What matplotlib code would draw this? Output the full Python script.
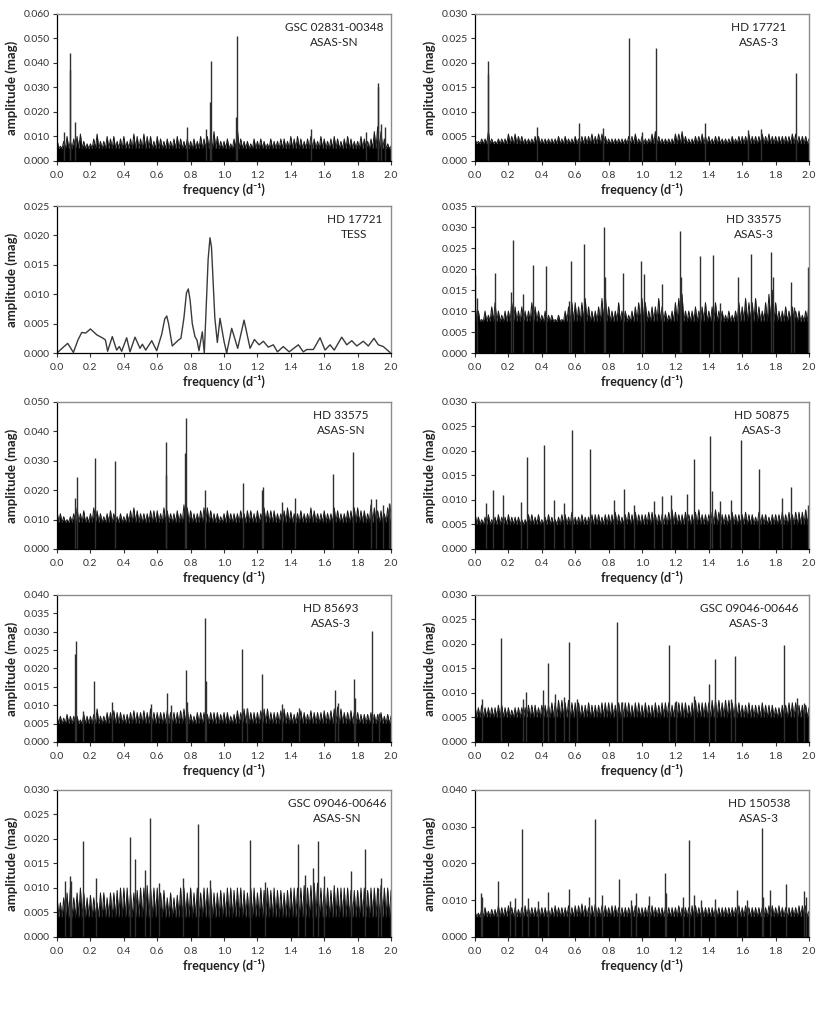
import numpy as np
import matplotlib
matplotlib.use("Agg")
from matplotlib import pyplot as plt

plt.rcParams['font.family'] = ['Lato', 'DejaVu Sans']

# panel labels (star, survey), left to right, top to bottom
stars = ["GSC 02831-00348", "HD 17721", "HD 17721", "HD 33575", "HD 33575",
         "HD 50875", "HD 85693", "GSC 09046-00646", "GSC 09046-00646", "HD 150538"]
surveys = ["ASAS-SN", "ASAS-3", "TESS", "ASAS-3", "ASAS-SN",
           "ASAS-3", "ASAS-3", "ASAS-3", "ASAS-SN", "ASAS-3"]
y_max = [0.060, 0.030, 0.025, 0.035, 0.050, 0.030, 0.040, 0.030, 0.030, 0.040]
y_step = [0.010, 0.005, 0.005, 0.005, 0.010, 0.005, 0.005, 0.005, 0.005, 0.010]
text_x = [0.83, 0.85, 0.89, 0.835, 0.85, 0.86, 0.82, 0.82, 0.84, 0.85]

# noise: upper envelope every 0.02 d^-1 (x 0.001 mag), and the solid floor (mag)
noise_freq = np.linspace(0, 2, 101)
noise_floor = [0.005, 0.0035, None, 0.0075, 0.009, 0.005, 0.005, 0.005, 0.004, 0.0055]
noise = [
    [9, 6, 8, 10, 8, 9, 10, 11, 8, 7,  7, 9, 11, 8, 8, 10, 9, 10, 8, 9,
     10, 8, 9, 11, 10, 9, 11, 10, 10, 8,  10, 9, 8, 9, 8, 9, 10, 9, 8, 9,
     8, 9, 8, 10, 9, 10, 10, 12, 10, 8,  8, 9, 7, 9, 13, 9, 8, 8, 7, 9,
     8, 9, 8, 7, 9, 8, 8, 9, 9, 8,  10, 9, 10, 9, 8, 9, 10, 9, 8, 10,
     9, 8, 9, 10, 9, 8, 9, 10, 9, 8,  8, 10, 9, 8, 9, 12, 14, 12, 9, 7, 6],
    [4.5, 4, 4.5, 4.5, 6, 4.5, 4, 4.5, 4.5, 4.5,  5.5, 5, 5.5, 5, 5, 4.5, 4.5, 4.5, 5, 5,
     4.5, 4.5, 4.5, 4.5, 4.5, 5, 4.5, 5, 4.5, 4.5,  5, 4.5, 5, 5, 5, 5.5, 5, 5.5, 5.5, 5,
     4.5, 4.5, 4.5, 4.5, 4.5, 4.5, 5, 5, 5.5, 4.5,  5, 4.5, 4.5, 5.5, 6, 5, 4.5, 4.5, 4.5, 4.5,
     5.5, 5.5, 6, 5, 4.5, 4.5, 5, 5, 5.5, 5,  5, 4.5, 5, 5, 4.5, 4.5, 4.5, 5, 4.5, 5,
     5, 5, 5.5, 5, 5, 5, 5.5, 5, 5.5, 5,  5, 5, 5, 5, 5, 5.5, 5.5, 5, 5, 5, 4.5],
    None,
    [12, 10, 8, 10, 9, 11, 12, 10, 9, 10,  10, 12, 11, 10, 11, 10, 10, 12, 11, 10,
     9, 10, 9, 9, 8, 9, 8, 10, 11, 12,  12, 11, 12, 13, 11, 10, 10, 11, 13, 14,
     11, 10, 10, 12, 10, 10, 9, 10, 11, 12,  13, 12, 10, 11, 11, 13, 11, 10, 9, 10,
     12, 13, 14, 10, 10, 10, 11, 10, 11, 12,  10, 11, 12, 10, 10, 9, 10, 9, 10, 12,
     11, 13, 12, 12, 13, 11, 10, 12, 14, 15,  12, 10, 10, 11, 10, 11, 10, 10, 9, 10, 12],
    [13, 12, 11, 10, 11, 12, 14, 12, 13, 11,  12, 14, 13, 12, 11, 12, 13, 12, 11, 12,
     11, 12, 13, 14, 13, 12, 12, 12, 13, 13,  13, 12, 14, 13, 12, 12, 13, 12, 15, 14,
     13, 12, 12, 13, 14, 14, 13, 12, 12, 11,  12, 13, 12, 12, 12, 13, 12, 13, 13, 12,
     13, 12, 14, 13, 13, 13, 12, 12, 13, 14,  13, 12, 12, 13, 12, 12, 14, 13, 12, 12,
     13, 12, 12, 14, 13, 12, 12, 13, 13, 14,  14, 13, 13, 12, 15, 14, 13, 13, 12, 14, 15],
    [7.5, 6.5, 6, 6.5, 7, 6, 6.5, 7, 6.5, 6.5,  7, 6.5, 6.5, 6.5, 6, 6, 7, 7, 6.5, 7,
     6, 6.5, 7, 6.5, 6, 6.5, 7, 7, 6.5, 7.5,  6.5, 6.5, 7, 6.5, 6.5, 7, 7, 7, 6.5, 7,
     7, 7, 7.5, 7, 6.5, 7, 7.5, 7, 7.5, 7,  7, 7, 7.5, 7.5, 7, 7, 7, 7, 7.5, 8,
     7.5, 7, 7, 7.5, 7, 7, 7.5, 8, 7, 7,  7, 7.5, 8, 7.5, 7, 7, 7, 7.5, 7, 7,
     7, 7.5, 7, 7, 6.5, 7.5, 7, 7, 6.5, 7,  7, 7, 7.5, 7, 7.5, 7, 7.5, 7.5, 7.5, 8, 8],
    [7, 7, 6.5, 7.5, 7, 7, 7, 6, 7.5, 7,  7, 7.5, 9, 7, 7, 8, 8, 8.5, 8, 8,
     7.5, 7.5, 8, 8.5, 8, 8, 8.5, 8, 9, 8,  8, 8, 8, 8.5, 8, 8, 8, 8.5, 9, 9,
     7.5, 7, 8, 8, 8, 7.5, 8, 8, 8, 7.5,  8, 8, 7, 7.5, 8.5, 8, 9, 9, 8, 8,
     8, 8.5, 9, 9, 8, 8, 8, 8.5, 9, 8,  8, 7.5, 8, 8.5, 8, 7.5, 8.5, 8, 8, 8,
     8.5, 8, 8.5, 9, 9.5, 9, 8, 8, 8.5, 8,  8, 7.5, 7.5, 7.5, 8, 7.5, 7.5, 8, 7, 7.5, 7],
    [7.5, 7, 7.5, 7, 7, 7, 7, 7.5, 7.5, 7,  7, 6.5, 7, 7, 7, 7, 7.5, 7.5, 7.5, 7,
     7.5, 7.5, 7.5, 8, 8, 8.5, 8.5, 8, 8.5, 8,  8, 8, 7.5, 7.5, 8, 7.5, 7.5, 7.5, 8, 8,
     8, 8, 7.5, 8, 8, 8, 8, 7.5, 8, 8,  7.5, 8, 7.5, 7.5, 8, 7.5, 8, 8, 8, 7.5,
     8, 8, 8, 8, 7.5, 8, 8.5, 8, 8, 8,  8, 8.5, 8.5, 8.5, 8, 8.5, 8.5, 8, 8, 8,
     7.5, 7.5, 8, 7.5, 7.5, 7.5, 8, 7.5, 7.5, 7.5,  7, 7, 7.5, 7.5, 8, 8, 8, 7.5, 7.5, 7.5, 7],
    [8.5, 7, 8, 9, 10, 8, 9, 10, 9, 8,  8.5, 8, 7, 9, 9, 8, 9, 9, 9.5, 10,
     10, 10, 9, 9, 9.5, 10, 10, 10.5, 10, 10,  10, 9, 9.5, 8, 9, 8, 8.5, 10, 10, 9,
     10, 9, 10, 9, 10, 10, 10, 9, 9, 9.5,  9, 10, 10, 9.5, 10, 10, 9.5, 9, 10, 10,
     9, 10, 9.5, 10, 9.5, 10, 9.5, 9.5, 9, 9.5,  10, 10, 10, 10, 10.5, 10, 10.5, 11, 11, 10,
     10, 10, 9.5, 10.5, 10, 10, 10, 10, 9.5, 9.5,  9.5, 10, 10, 9.5, 10, 10, 10, 10.5, 10, 10, 9.5],
    [7, 6.5, 7.5, 8, 7, 7.5, 7.5, 8.5, 8, 8,  8.5, 8, 8, 7.5, 8, 8.5, 8, 8, 8, 8,
     8, 8, 7.5, 8, 8.5, 8, 8, 8, 8.5, 8,  8.5, 8.5, 9, 8.5, 8, 8.5, 9, 8, 8.5, 8.5,
     8, 8.5, 8.5, 8, 8, 8, 8, 8.5, 8.5, 8,  8, 8, 8.5, 8.5, 8, 8, 8, 8, 8, 8,
     8, 8.5, 8, 8, 8, 8.5, 8.5, 8, 8, 8,  8, 8, 8, 8, 8, 8, 8, 8, 8, 8.5,
     8, 8.5, 8, 8, 8, 8, 8, 8, 8.5, 8.5,  8, 8.5, 8, 8, 8, 8, 8, 8.5, 8.5, 8.5, 7],
]

# periodogram peaks (frequency d^-1, amplitude mag)
peak_f = [
    [0.04, 0.075, 0.08, 0.11, 0.78, 0.89, 0.915, 0.92, 1.07, 1.08, 1.52, 1.85, 1.92, 1.925, 1.94, 1.965],
    [0.075, 0.08, 0.37, 0.625, 0.765, 0.92, 1.0, 1.085, 1.375, 1.635, 1.715, 1.92],
    [],
    [0.002, 0.01, 0.12, 0.215, 0.225, 0.29, 0.345, 0.425, 0.565, 0.575, 0.655, 0.77, 0.78,
     0.885, 0.995, 1.01, 1.12, 1.225, 1.235, 1.35, 1.425, 1.465, 1.575, 1.655, 1.775, 1.785,
     1.89, 1.91, 1.995],
    [0.11, 0.12, 0.225, 0.345, 0.65, 0.655, 0.765, 0.77, 0.885, 1.115, 1.225, 1.235, 1.35,
     1.425, 1.65, 1.775, 1.88, 1.91, 1.955, 1.99],
    [0.065, 0.11, 0.17, 0.275, 0.31, 0.415, 0.475, 0.53, 0.58, 0.69, 0.835, 0.89, 0.95,
     1.07, 1.12, 1.175, 1.27, 1.31, 1.41, 1.42, 1.47, 1.53, 1.59, 1.70, 1.84, 1.895, 1.995],
    [0.11, 0.115, 0.155, 0.22, 0.33, 0.56, 0.66, 0.68, 0.775, 0.78, 0.885, 0.89, 1.11,
     1.14, 1.225, 1.35, 1.45, 1.665, 1.68, 1.78, 1.785, 1.885, 1.93],
    [0.04, 0.155, 0.29, 0.305, 0.405, 0.44, 0.48, 0.53, 0.56, 0.61, 0.85, 0.88, 1.16,
     1.205, 1.31, 1.40, 1.44, 1.53, 1.555, 1.85, 1.93, 1.97],
    [0.05, 0.075, 0.085, 0.155, 0.235, 0.44, 0.465, 0.525, 0.555, 0.61, 0.755, 0.845,
     0.915, 1.155, 1.245, 1.445, 1.485, 1.53, 1.56, 1.60, 1.76, 1.845, 1.92, 1.94],
    [0.035, 0.04, 0.14, 0.21, 0.24, 0.28, 0.315, 0.375, 0.435, 0.565, 0.68, 0.72, 0.76,
     0.86, 0.935, 0.965, 1.04, 1.14, 1.145, 1.245, 1.28, 1.31, 1.355, 1.435, 1.57, 1.63,
     1.72, 1.725, 1.765, 1.86, 1.97, 1.985],
]
peak_a = [
    [0.012, 0.037, 0.044, 0.016, 0.014, 0.013, 0.024, 0.041, 0.018, 0.051, 0.013, 0.012, 0.032, 0.030, 0.015, 0.014],
    [0.0177, 0.0205, 0.007, 0.0078, 0.0067, 0.025, 0.006, 0.023, 0.0078, 0.0063, 0.0065, 0.018],
    [],
    [0.0185, 0.013, 0.019, 0.0145, 0.027, 0.014, 0.021, 0.0208, 0.0125, 0.0218, 0.026, 0.030, 0.018,
     0.019, 0.022, 0.0188, 0.0165, 0.029, 0.018, 0.023, 0.0233, 0.012, 0.018, 0.0235, 0.024, 0.018,
     0.017, 0.011, 0.0205],
    [0.0175, 0.0245, 0.031, 0.030, 0.0365, 0.025, 0.0325, 0.0445, 0.020, 0.0225, 0.020, 0.021, 0.016,
     0.0175, 0.0255, 0.033, 0.017, 0.017, 0.015, 0.0155],
    [0.0093, 0.012, 0.011, 0.0095, 0.0187, 0.0213, 0.010, 0.0093, 0.0243, 0.0205, 0.010, 0.0123, 0.009,
     0.0098, 0.0108, 0.0111, 0.0112, 0.0183, 0.023, 0.0118, 0.0098, 0.010, 0.0223, 0.0163, 0.0105, 0.0127, 0.009],
    [0.024, 0.0275, 0.0085, 0.0165, 0.011, 0.0102, 0.0133, 0.010, 0.0197, 0.011, 0.0337, 0.0165, 0.0254,
     0.0093, 0.0186, 0.0102, 0.0093, 0.0142, 0.0105, 0.017, 0.012, 0.0303, 0.008],
    [0.0087, 0.0212, 0.0087, 0.0102, 0.0107, 0.0161, 0.0098, 0.0092, 0.0205, 0.0088, 0.0245, 0.0082, 0.0197,
     0.0083, 0.0093, 0.0118, 0.017, 0.0088, 0.0175, 0.0197, 0.0089, 0.008],
    [0.0115, 0.0125, 0.0115, 0.0195, 0.012, 0.0205, 0.016, 0.0137, 0.0243, 0.011, 0.012, 0.023,
     0.0116, 0.0197, 0.0113, 0.019, 0.0127, 0.014, 0.0195, 0.0125, 0.0135, 0.018, 0.010, 0.012],
    [0.012, 0.0108, 0.0152, 0.0098, 0.0105, 0.0293, 0.0105, 0.0098, 0.0123, 0.013, 0.0108, 0.032, 0.0115,
     0.0158, 0.010, 0.012, 0.0112, 0.0173, 0.012, 0.011, 0.0263, 0.0113, 0.0102, 0.0103, 0.0128, 0.0102,
     0.0297, 0.011, 0.0128, 0.0143, 0.0125, 0.011],
]

# TESS amplitude spectrum of HD 17721 (frequency d^-1, amplitude mag)
tess_f = [0.0, 0.03, 0.064, 0.098, 0.125, 0.148, 0.172, 0.2, 0.238, 0.277, 0.29, 0.303, 0.331,
          0.357, 0.373, 0.387, 0.417, 0.437, 0.467, 0.497, 0.511, 0.531, 0.567, 0.597, 0.627,
          0.645, 0.657, 0.668, 0.69, 0.727, 0.742, 0.76, 0.775, 0.786, 0.797, 0.81, 0.826,
          0.838, 0.85, 0.87, 0.882, 0.895, 0.905, 0.916, 0.925, 0.935, 0.945, 0.96, 0.976,
          1.0, 1.016, 1.046, 1.082, 1.12, 1.156, 1.182, 1.21, 1.236, 1.265, 1.295, 1.32,
          1.355, 1.39, 1.445, 1.475, 1.495, 1.535, 1.575, 1.605, 1.635, 1.66, 1.705, 1.735,
          1.765, 1.795, 1.834, 1.864, 1.898, 1.924, 1.954, 1.994]
tess_a = [0.0, 0.0008, 0.00165, 0.0001, 0.0022, 0.0035, 0.0034, 0.0041, 0.0031, 0.0025, 0.0022, 0.0003, 0.0028,
          0.0005, 0.0011, 0.0003, 0.0026, 0.0002, 0.0027, 0.0008, 0.0015, 0.0005, 0.0021, 0.0004, 0.0032,
          0.0058, 0.0063, 0.005, 0.0012, 0.0022, 0.0025, 0.006, 0.0102, 0.0109, 0.009, 0.005, 0.0028,
          0.0022, 0.0004, 0.0036, 0.0, 0.009, 0.016, 0.0196, 0.018, 0.012, 0.006, 0.0018, 0.0059,
          0.002, 0.0, 0.0042, 0.0008, 0.0056, 0.0008, 0.0023, 0.0014, 0.002, 0.001, 0.0014, 0.0002,
          0.0011, 0.0002, 0.0014, 0.0002, 0.0006, 0.0006, 0.0026, 0.0005, 0.0014, 0.0005, 0.0027, 0.0014,
          0.0021, 0.0012, 0.002, 0.0012, 0.0025, 0.0014, 0.0011, 0.0001]

fig = plt.figure(figsize=(8.3, 10.11), dpi=100)
lefts = [0.0687, 0.5723]
bottoms = [0.8408, 0.6508, 0.457, 0.2661, 0.0732]

for k in range(10):
    row, col = k // 2, k % 2
    ax = fig.add_axes([lefts[col], bottoms[row], 0.4024, 0.1454])

    if k == 2:
        ax.plot(tess_f, tess_a, color='#3a3a3a', lw=1.0)
    else:
        top = np.array(noise[k]) * 0.001
        fl = noise_floor[k]
        # saw-tooth noise band: envelope points with floor points between them
        xs = np.empty(2 * len(noise_freq) - 1)
        ys = np.empty_like(xs)
        xs[0::2] = noise_freq
        xs[1::2] = noise_freq[:-1] + 0.01
        ys[0::2] = top
        ys[1::2] = fl
        ax.fill_between(xs, 0, ys, color='black', lw=0)
        ax.plot(xs, ys, color='#1a1a1a', lw=0.7)
        ax.vlines(peak_f[k], 0, peak_a[k], color='#303030', lw=1.0)

    ax.set_xlim(0, 2)
    ax.set_ylim(0, y_max[k])
    ax.set_xticks(np.arange(0, 2.01, 0.2))
    ax.set_yticks(np.arange(0, y_max[k] + 1e-9, y_step[k]))
    ax.xaxis.set_major_formatter(plt.FormatStrFormatter('%.1f'))
    ax.yaxis.set_major_formatter(plt.FormatStrFormatter('%.3f'))
    ax.tick_params(labelsize=7.5, colors='#333333', length=3, width=0.8, direction='out', pad=2)
    ax.tick_params(axis='x', pad=4)

    for s in ['top', 'right']:
        ax.spines[s].set_color('#8c8c8c')
        ax.spines[s].set_linewidth(1.0)
    for s in ['left', 'bottom']:
        ax.spines[s].set_color('black')
        ax.spines[s].set_linewidth(0.9)

    ax.set_xlabel('frequency (d\u207b\u00b9)', fontsize=9, fontweight='bold', color='#222222', labelpad=2)
    if k != 3:
        ax.set_ylabel('amplitude (mag)', fontsize=9.5, fontweight='bold', color='#222222', labelpad=4)

    ax.text(text_x[k], 0.855, stars[k] + "\n" + surveys[k], transform=ax.transAxes,
            ha='center', va='center', fontsize=8.5, color='#222222', linespacing=1.45)

fig.savefig('out.png', dpi=100)
